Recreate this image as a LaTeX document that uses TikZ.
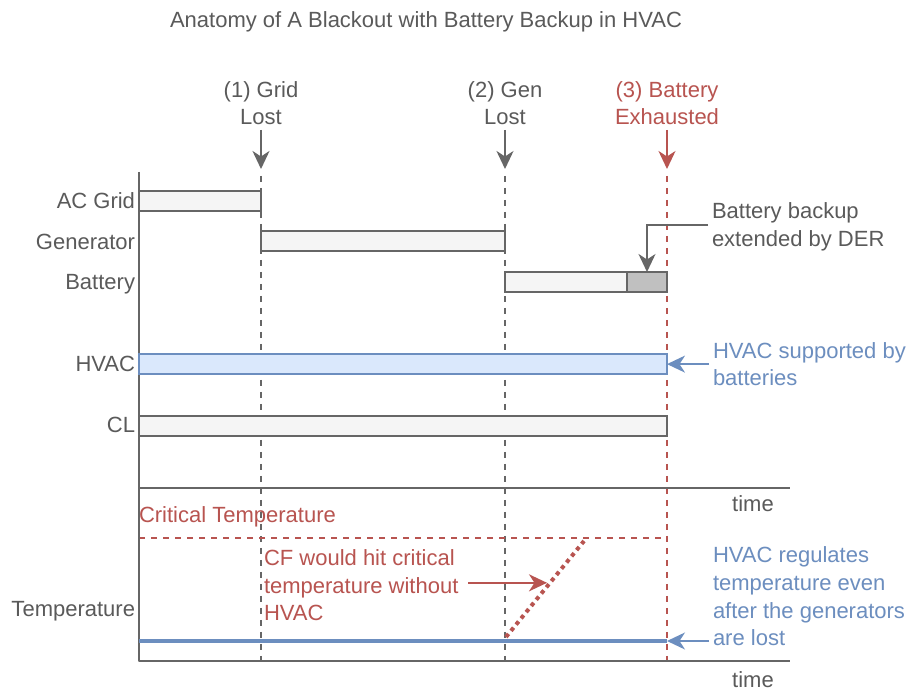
\documentclass[tikz,border=0pt]{standalone}
\usepackage{fontspec}
\setmainfont{Liberation Sans}
\usetikzlibrary{arrows.meta,calc}
\definecolor{tgrey}{HTML}{5A5A5A}
\definecolor{lgrey}{HTML}{666666}
\definecolor{cred}{HTML}{B85450}
\definecolor{cblue}{HTML}{6C8EBF}
\definecolor{bfill}{HTML}{DAE8FC}
\definecolor{gfill}{HTML}{F5F5F5}
\definecolor{dfill}{HTML}{C0C0C0}
\begin{document}
\begin{tikzpicture}[x=1pt,y=-1pt,
  txt/.style={font=\fontsize{22}{27.6}\selectfont, text=tgrey, inner sep=0pt, outer sep=0pt},
  bar/.style={draw=lgrey, line width=2pt, fill=gfill, minimum height=20.5pt, inner sep=0pt, outer sep=0pt, anchor=north west},
  hbar/.style={bar, draw=cblue, fill=bfill},
  dbar/.style={bar, fill=dfill},
  axis/.style={draw=lgrey, line width=2pt, line join=round},
  gdash/.style={draw=lgrey, line width=2pt, dash pattern=on 6pt off 6pt},
  rdash/.style={draw=cred, line width=2pt, dash pattern=on 6pt off 6pt},
  tip/.style={-{Stealth[length=18pt,width=17pt,inset=5.5pt]}},
  arr/.style={tip, draw=lgrey, line width=2pt},
  rarr/.style={tip, draw=cred, line width=2pt},
  barr/.style={tip, draw=cblue, line width=1.6pt},
]
\useasboundingbox (0,0) rectangle (914,692);
\fill[white] (0,0) rectangle (914,692);

% title
\node[txt, anchor=base] (title) at (426,28) {Anatomy of A Blackout with Battery Backup in HVAC};

% event labels
\node[txt, align=center, anchor=south] (l1) at (261,125) {(1) Grid\\Lost};
\node[txt, align=center, anchor=south] (l2) at (505,125) {(2) Gen\\Lost};
\node[txt, align=center, anchor=south, text=cred] (l3) at (667,125) {(3) Battery\\Exhausted};

\coordinate (t1) at (261,169);
\coordinate (t2) at (505,169);
\coordinate (t3) at (667,169);
\coordinate (b1) at (261,661);
\coordinate (b2) at (505,661);
\coordinate (b3) at (667,661);

% axes
\coordinate (axT) at (139,172);
\coordinate (axM) at (139,488);
\coordinate (axB) at (139,661);
\coordinate (axR1) at (790,488);
\coordinate (axR2) at (790,661);

% dashed event lines
\draw[gdash] ([yshift=-7pt]t1) -- (b1);
\draw[gdash] ([yshift=-7pt]t2) -- (b2);

% critical temperature
\coordinate (ctA) at (139,538);
\coordinate (ctB) at (667,538);
\draw[rdash] (ctA) -- (ctB);
\draw[rdash] ([yshift=-7pt]t3) -- (b3);

\draw[axis] (axT) -- (axB) -- (axR2);
\draw[axis] (axM) -- (axR1);

% event arrows
\draw[arr] ([yshift=-5pt]l1.south) -- (t1);
\draw[arr] ([yshift=-5pt]l2.south) -- (t2);
\draw[rarr] ([yshift=-5pt]l3.south) -- (t3);

% row labels
\node[txt, anchor=base east] (lac) at (135,209) {AC Grid};
\node[txt, anchor=base east] (lgen) at (135,250) {Generator};
\node[txt, anchor=base east] (lbat) at (135,290) {Battery};
\node[txt, anchor=base east] (lhv) at (135,372) {HVAC};
\node[txt, anchor=base east] (lcl) at (135,433) {CL};
\node[txt, anchor=base east] (ltemp) at (135,617) {Temperature};

% bars
\node[bar, minimum width=122pt] (acgrid) at (139,191) {};
\node[bar, minimum width=244pt] (gen) at (261,231) {};
\node[bar, minimum width=122pt] (battA) at (505,272) {};
\node[dbar, minimum width=40pt] (battB) at (627,272) {};
\node[hbar, minimum width=528pt] (hvac) at (139,354) {};
\node[bar, minimum width=528pt] (cl) at (139,416) {};

% battery backup note
\node[txt, align=left, anchor=south west] (bbk) at (712,251) {Battery backup\\extended by DER};
\draw[arr] ([xshift=-4pt,yshift=2pt]bbk.west) -| (battB.north);

% HVAC supported note
\node[txt, align=left, anchor=south west, text=cblue] (hsup) at (713,386) {HVAC supported by\\batteries};
\draw[barr] ([xshift=-4pt]hsup.west) -- (hsup.west -| hvac.east);

% time labels
\node[txt, anchor=base] (time1) at (753,512) {time};
\node[txt, anchor=base] (time2) at (753,688) {time};

% lower chart
\node[txt, anchor=base west, text=cred] (crit) at (139,523) {Critical Temperature};

\coordinate (tmpA) at (139,641);
\coordinate (tmpB) at (667,641);
\draw[cblue, line width=4pt] (tmpA) -- (tmpB);

\coordinate (dotA) at (506,637);
\coordinate (dotB) at (584,541);
\draw[cred, line width=4pt, dash pattern=on 4pt off 4pt] (dotA) -- (dotB);

\node[txt, align=left, anchor=south west, text=cred] (cf) at (264,621) {CF would hit critical\\temperature without\\HVAC};
\coordinate (cfp) at (547,583);
\draw[rarr] ([xshift=10pt,yshift=2.5pt]cf.east) -- ([yshift=2.5pt]cf.east -| cfp);

\node[txt, align=left, anchor=south west, text=cblue] (hreg) at (713,646) {HVAC regulates\\temperature even\\after the generators\\are lost};
\draw[barr] ([xshift=-4pt,yshift=5pt]hreg.south west) -- (tmpB);
\end{tikzpicture}
\end{document}
